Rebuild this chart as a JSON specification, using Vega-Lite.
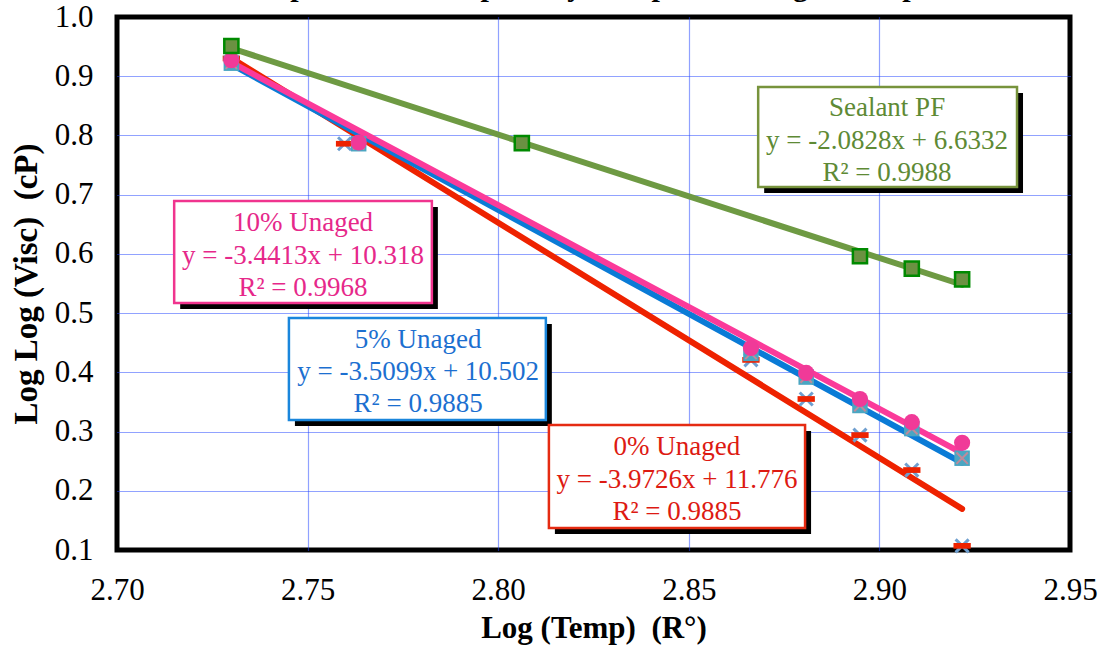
{
  "$schema": "https://vega.github.io/schema/vega-lite/v6.json",
  "width": 953,
  "height": 533,
  "autosize": {"type": "none"},
  "padding": {"left": 117, "top": 17, "right": 31, "bottom": 102},
  "background": "white",
  "title": {"text": "Temperature Susceptibility Comparison - Aged Samples", "font": "Liberation Serif", "fontSize": 30, "fontWeight": "bold", "color": "black", "offset": -1, "anchor": "middle"},
  "config": {
    "view": {"stroke": "black", "strokeWidth": 5},
    "axis": {"domain": false, "ticks": false, "labelOverlap": false, "labelFlush": false, "labelFont": "Liberation Serif", "labelFontSize": 31, "labelColor": "black", "titleFont": "Liberation Serif", "titleFontWeight": "bold", "titleFontSize": 31, "titleColor": "black", "gridColor": "#2244ff", "gridDash": [1, 1], "gridWidth": 1.2}
  },
  "resolve": {"scale": {"color": "independent", "stroke": "independent", "fill": "independent"}},
  "datasets": {
    "pts": [
      {"series": "0% Unaged", "x": 2.7300, "y": 0.930},
      {"series": "0% Unaged", "x": 2.7597, "y": 0.786},
      {"series": "0% Unaged", "x": 2.8663, "y": 0.421},
      {"series": "0% Unaged", "x": 2.8808, "y": 0.355},
      {"series": "0% Unaged", "x": 2.8949, "y": 0.294},
      {"series": "0% Unaged", "x": 2.9085, "y": 0.235},
      {"series": "0% Unaged", "x": 2.9217, "y": 0.107},
      {"series": "5% Unaged", "x": 2.7300, "y": 0.922},
      {"series": "5% Unaged", "x": 2.7634, "y": 0.786},
      {"series": "5% Unaged", "x": 2.8663, "y": 0.432},
      {"series": "5% Unaged", "x": 2.8808, "y": 0.392},
      {"series": "5% Unaged", "x": 2.8949, "y": 0.344},
      {"series": "5% Unaged", "x": 2.9085, "y": 0.305},
      {"series": "5% Unaged", "x": 2.9217, "y": 0.255},
      {"series": "10% Unaged", "x": 2.7300, "y": 0.927},
      {"series": "10% Unaged", "x": 2.7634, "y": 0.788},
      {"series": "10% Unaged", "x": 2.8663, "y": 0.441},
      {"series": "10% Unaged", "x": 2.8808, "y": 0.399},
      {"series": "10% Unaged", "x": 2.8949, "y": 0.355},
      {"series": "10% Unaged", "x": 2.9085, "y": 0.316},
      {"series": "10% Unaged", "x": 2.9217, "y": 0.281},
      {"series": "Sealant PF", "x": 2.7300, "y": 0.951},
      {"series": "Sealant PF", "x": 2.8062, "y": 0.787},
      {"series": "Sealant PF", "x": 2.8949, "y": 0.596},
      {"series": "Sealant PF", "x": 2.9085, "y": 0.575},
      {"series": "Sealant PF", "x": 2.9217, "y": 0.557}
    ],
    "trend": [
      {"series": "0% Unaged", "x": 2.7300, "y": 0.9308},
      {"series": "0% Unaged", "x": 2.9217, "y": 0.1694},
      {"series": "5% Unaged", "x": 2.7300, "y": 0.9200},
      {"series": "5% Unaged", "x": 2.9217, "y": 0.2471},
      {"series": "10% Unaged", "x": 2.7300, "y": 0.9233},
      {"series": "10% Unaged", "x": 2.9217, "y": 0.2635},
      {"series": "Sealant PF", "x": 2.7300, "y": 0.9472},
      {"series": "Sealant PF", "x": 2.9217, "y": 0.5479}
    ],
    "xticks": [
      {"x": 2.71}, {"x": 2.72}, {"x": 2.73}, {"x": 2.74}, {"x": 2.75}, {"x": 2.76}, {"x": 2.77}, {"x": 2.78}, {"x": 2.79}, {"x": 2.80},
      {"x": 2.81}, {"x": 2.82}, {"x": 2.83}, {"x": 2.84}, {"x": 2.85}, {"x": 2.86}, {"x": 2.87}, {"x": 2.88}, {"x": 2.89}, {"x": 2.90},
      {"x": 2.91}, {"x": 2.92}, {"x": 2.93}, {"x": 2.94}
    ],
    "yticks": [
      {"y": 0.12}, {"y": 0.14}, {"y": 0.16}, {"y": 0.18}, {"y": 0.20}, {"y": 0.22}, {"y": 0.24}, {"y": 0.26}, {"y": 0.28}, {"y": 0.30},
      {"y": 0.32}, {"y": 0.34}, {"y": 0.36}, {"y": 0.38}, {"y": 0.40}, {"y": 0.42}, {"y": 0.44}, {"y": 0.46}, {"y": 0.48}, {"y": 0.50},
      {"y": 0.52}, {"y": 0.54}, {"y": 0.56}, {"y": 0.58}, {"y": 0.60}, {"y": 0.62}, {"y": 0.64}, {"y": 0.66}, {"y": 0.68}, {"y": 0.70},
      {"y": 0.72}, {"y": 0.74}, {"y": 0.76}, {"y": 0.78}, {"y": 0.80}, {"y": 0.82}, {"y": 0.84}, {"y": 0.86}, {"y": 0.88}, {"y": 0.90},
      {"y": 0.92}, {"y": 0.94}, {"y": 0.96}, {"y": 0.98}
    ],
    "boxes": [
      {"series": "Sealant PF", "x": 2.8682, "x2": 2.9361, "y": 0.8818, "y2": 0.7129},
      {"series": "10% Unaged", "x": 2.7150, "x2": 2.7826, "y": 0.6893, "y2": 0.5171},
      {"series": "5% Unaged", "x": 2.7451, "x2": 2.8125, "y": 0.4918, "y2": 0.3195},
      {"series": "0% Unaged", "x": 2.8133, "x2": 2.8805, "y": 0.3110, "y2": 0.1371}
    ],
    "labels": [
      {"series": "Sealant PF", "x": 2.9020, "y": 0.8463, "text": "Sealant PF"},
      {"series": "Sealant PF", "x": 2.9020, "y": 0.7906, "text": "y = -2.0828x + 6.6332"},
      {"series": "Sealant PF", "x": 2.9020, "y": 0.7366, "text": "R² = 0.9988"},
      {"series": "10% Unaged", "x": 2.7488, "y": 0.6521, "text": "10% Unaged"},
      {"series": "10% Unaged", "x": 2.7488, "y": 0.5964, "text": "y = -3.4413x + 10.318"},
      {"series": "10% Unaged", "x": 2.7488, "y": 0.5424, "text": "R² = 0.9968"},
      {"series": "5% Unaged", "x": 2.7790, "y": 0.4546, "text": "5% Unaged"},
      {"series": "5% Unaged", "x": 2.7790, "y": 0.4005, "text": "y = -3.5099x + 10.502"},
      {"series": "5% Unaged", "x": 2.7790, "y": 0.3465, "text": "R² = 0.9885"},
      {"series": "0% Unaged", "x": 2.8469, "y": 0.2739, "text": "0% Unaged"},
      {"series": "0% Unaged", "x": 2.8469, "y": 0.2182, "text": "y = -3.9726x + 11.776"},
      {"series": "0% Unaged", "x": 2.8469, "y": 0.1641, "text": "R² = 0.9885"}
    ]
  },
  "encoding": {
    "x": {"field": "x", "type": "quantitative",
      "scale": {"domain": [2.70, 2.95], "nice": false, "zero": false},
      "axis": {
        "title": "Log (Temp)\u00a0\u00a0(R°)",
        "values": [2.70, 2.75, 2.80, 2.85, 2.90, 2.95],
        "format": ".2f",
        "labelPadding": 25,
        "titlePadding": 8,
        "grid": true,
        "gridOpacity": {"condition": {"test": "datum.value > 2.705 && datum.value < 2.945", "value": 1}, "value": 0}
      }
    },
    "y": {"field": "y", "type": "quantitative",
      "scale": {"domain": [0.1, 1.0], "nice": false, "zero": false},
      "axis": {
        "title": "Log Log (Visc)\u00a0\u00a0(cP)",
        "titleFontSize": 33,
        "values": [0.1, 0.2, 0.3, 0.4, 0.5, 0.6, 0.7, 0.8, 0.9, 1.0],
        "format": ".1f",
        "labelPadding": 24,
        "titlePadding": 11,
        "grid": true,
        "gridOpacity": {"condition": {"test": "datum.value > 0.105 && datum.value < 0.995", "value": 1}, "value": 0}
      }
    }
  },
  "layer": [
    {
      "data": {"name": "xticks"},
      "mark": {"type": "rule", "color": "black", "strokeWidth": 1.5, "y2Offset": -8},
      "encoding": {"y": {"datum": 0.1}, "y2": {"datum": 0.1}}
    },
    {
      "data": {"name": "yticks"},
      "mark": {"type": "rule", "color": "black", "strokeWidth": 1.5, "x2Offset": 8},
      "encoding": {"x": {"datum": 2.70}, "x2": {"datum": 2.70}}
    },
    {
      "data": {"name": "boxes"},
      "mark": {"type": "rect", "fill": "black", "xOffset": 6, "x2Offset": 6, "yOffset": 6, "y2Offset": 6},
      "encoding": {"x2": {"field": "x2"}, "y2": {"field": "y2"}}
    },
    {
      "data": {"name": "boxes"},
      "mark": {"type": "rect", "fill": "white", "strokeWidth": 2.5},
      "encoding": {
        "x2": {"field": "x2"}, "y2": {"field": "y2"},
        "stroke": {"field": "series", "type": "nominal", "legend": null,
          "scale": {"domain": ["0% Unaged", "5% Unaged", "10% Unaged", "Sealant PF"], "range": ["#e52b12", "#1a86dc", "#f0348e", "#77933c"]}}
      }
    },
    {
      "data": {"name": "labels"},
      "mark": {"type": "text", "font": "Liberation Serif", "fontSize": 27, "align": "center", "baseline": "middle"},
      "encoding": {
        "text": {"field": "text"},
        "color": {"field": "series", "type": "nominal", "legend": null,
          "scale": {"domain": ["0% Unaged", "5% Unaged", "10% Unaged", "Sealant PF"], "range": ["#dd1a12", "#1c6fd0", "#e6288a", "#5e8a35"]}}
      }
    },
    {
      "data": {"name": "trend"},
      "mark": {"type": "line", "strokeWidth": 6, "strokeCap": "round"},
      "encoding": {
        "detail": {"field": "series"},
        "stroke": {"field": "series", "type": "nominal", "legend": null,
          "scale": {"domain": ["0% Unaged", "5% Unaged", "10% Unaged", "Sealant PF"], "range": ["#ee2200", "#0a7bd6", "#fb3a9a", "#6e9a43"]}}
      }
    },
    {
      "data": {"name": "pts"},
      "transform": [{"filter": "datum.series === '0% Unaged'"}],
      "mark": {"type": "point", "shape": "M-1,-1L1,1M-1,1L1,-1", "filled": false, "stroke": "#6f9fcf", "strokeWidth": 3, "size": 170, "opacity": 1}
    },
    {
      "data": {"name": "pts"},
      "transform": [{"filter": "datum.series === '0% Unaged'"}],
      "mark": {"type": "point", "shape": "M-1,-0.33L1,-0.33L1,0.33L-1,0.33Z", "filled": true, "fill": "#ee2200", "size": 300, "opacity": 1}
    },
    {
      "data": {"name": "pts"},
      "transform": [{"filter": "datum.series === '5% Unaged'"}],
      "mark": {"type": "point", "shape": "square", "filled": true, "fill": "#4aa6c2", "size": 240, "opacity": 1}
    },
    {
      "data": {"name": "pts"},
      "transform": [{"filter": "datum.series === '5% Unaged'"}],
      "mark": {"type": "point", "shape": "M-1,-1L1,1M-1,1L1,-1", "filled": false, "stroke": "#c08a9a", "strokeWidth": 2, "size": 130, "opacity": 1}
    },
    {
      "data": {"name": "pts"},
      "transform": [{"filter": "datum.series === '10% Unaged'"}],
      "mark": {"type": "point", "shape": "circle", "filled": true, "fill": "#f03a98", "size": 260, "opacity": 1}
    },
    {
      "data": {"name": "pts"},
      "transform": [{"filter": "datum.series === 'Sealant PF'"}],
      "mark": {"type": "point", "shape": "square", "filled": true, "fill": "#6b9142", "stroke": "#008a00", "strokeWidth": 2.5, "size": 200, "opacity": 1}
    }
  ]
}
